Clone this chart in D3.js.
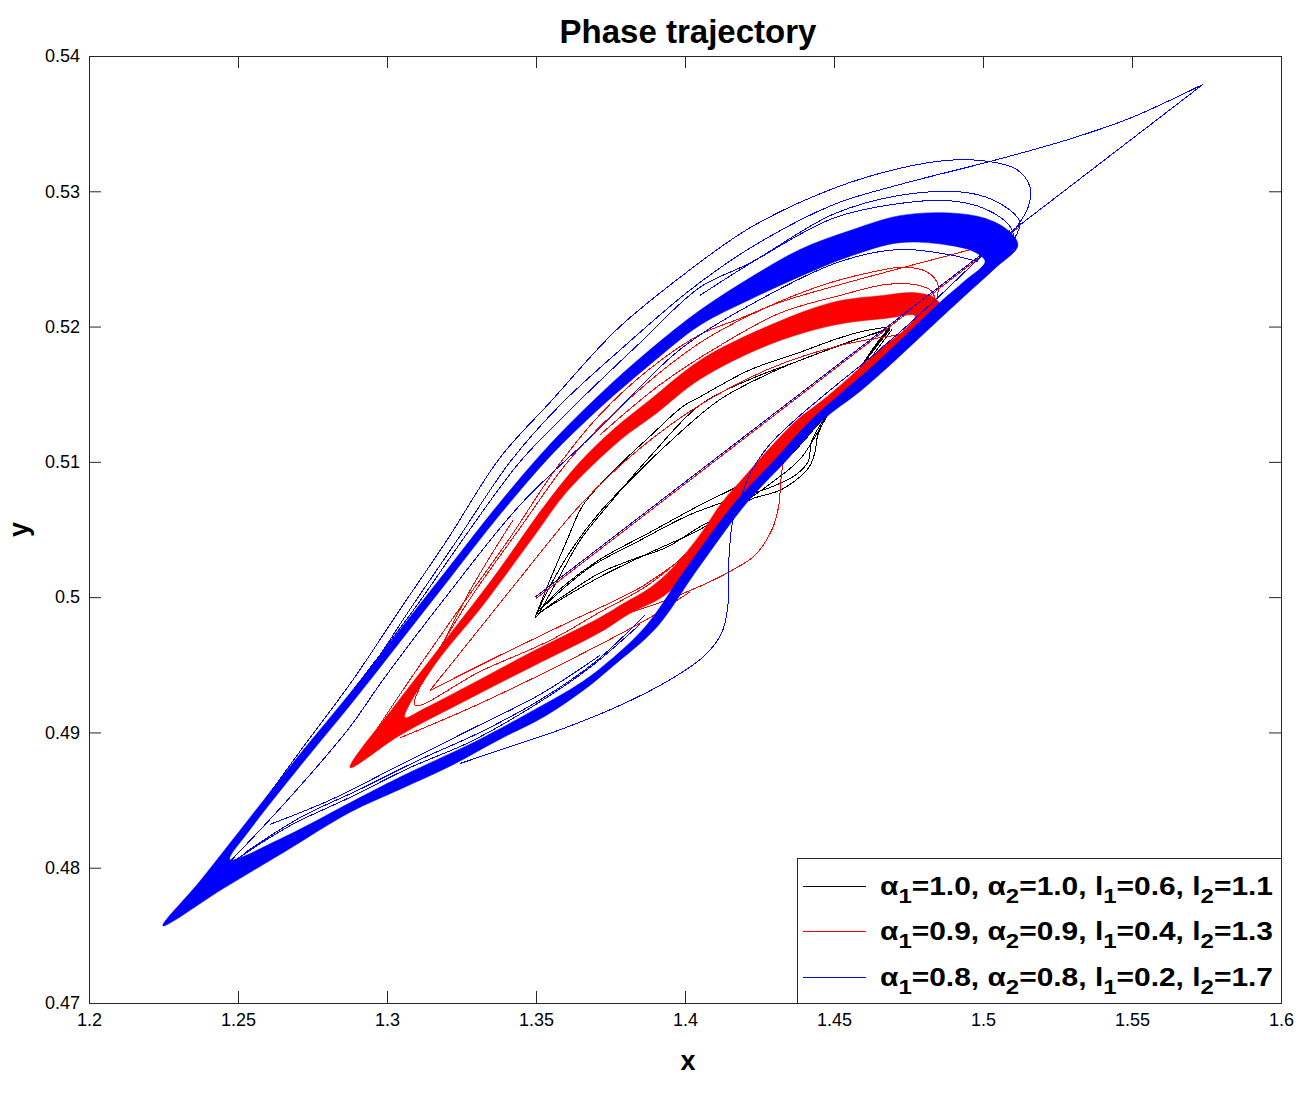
<html>
  <head>
    <title>Phase trajectory</title>
    <style>
      body { margin: 0; background: #ffffff; }
      text { font-family: "Liberation Sans", Arial, sans-serif; fill: #000; }
    </style>
  </head>
  <body>
    <script src="https://d3js.org/d3.v7.min.js"></script>
    <script>
    // axis ticks
    var xTicks = [1.2, 1.25, 1.3, 1.35, 1.4, 1.45, 1.5, 1.55, 1.6];
    var xTickLabels = ["1.2", "1.25", "1.3", "1.35", "1.4", "1.45", "1.5", "1.55", "1.6"];
    var yTicks = [0.47, 0.48, 0.49, 0.5, 0.51, 0.52, 0.53, 0.54];
    var yTickLabels = ["0.47", "0.48", "0.49", "0.5", "0.51", "0.52", "0.53", "0.54"];

    // legend parameters
    var seriesColors = ["#000000", "#ff0000", "#0000ff"];
    var alpha1 = ["1.0", "0.9", "0.8"];
    var alpha2 = ["1.0", "0.9", "0.8"];
    var l1 = ["0.6", "0.4", "0.2"];
    var l2 = ["1.1", "1.3", "1.7"];

    // ---- alpha = 1.0 (black) : loose loop bundle ----
    var blackUpperA = [[1.3497,.4985],[1.3540,.5009],[1.3604,.5042],[1.3658,.5068],[1.3772,.5096],[1.3883,.5119],[1.3993,.5141],[1.4050,.5148],[1.4218,.5168],[1.4386,.5181],[1.4497,.5190],[1.4587,.5196],[1.4688,.5200]];
    var blackUpperB = [[1.3513,.4989],[1.3581,.5016],[1.3648,.5042],[1.3765,.5074],[1.3883,.5104],[1.4050,.5142],[1.4218,.5161],[1.4386,.5175],[1.4554,.5189],[1.4688,.5198]];
    var blackUpperC = [[1.3503,.4988],[1.3554,.5011],[1.3631,.5039],[1.3715,.5063],[1.3832,.5090],[1.3950,.5115],[1.4117,.5146],[1.4319,.5169],[1.4520,.5186],[1.4688,.5199]];
    var blackLowerA = [[1.4688,.5200],[1.4638,.5186],[1.4570,.5164],[1.4503,.5144],[1.4443,.5121],[1.4386,.5102],[1.4275,.5082],[1.4161,.5065],[1.4050,.5052],[1.3940,.5037],[1.3826,.5028],[1.3715,.5018],[1.3614,.5004],[1.3540,.4993],[1.3497,.4985]];
    var blackLowerB = [[1.4688,.5198],[1.4604,.5174],[1.4520,.5147],[1.4436,.5125],[1.4352,.5105],[1.4195,.5084],[1.4050,.5068],[1.3883,.5048],[1.3715,.5028],[1.3597,.5009],[1.3513,.4991]];
    var blackLowerC = [[1.4695,.5198],[1.4614,.5174],[1.4537,.5152],[1.4480,.5135],[1.4446,.5120],[1.4436,.5107],[1.4419,.5097],[1.4386,.5089],[1.4319,.5079],[1.4218,.5072],[1.4050,.5050],[1.3883,.5033],[1.3715,.5015],[1.3581,.4998],[1.3500,.4987]];
    var blackLowerD = [[1.4688,.5199],[1.4621,.5180],[1.4547,.5156],[1.4487,.5138],[1.4426,.5116],[1.4413,.5100],[1.4369,.5090],[1.4285,.5081],[1.4168,.5073],[1.4017,.5061],[1.3849,.5042],[1.3681,.5022],[1.3564,.5001],[1.3503,.4988]];

    // ---- alpha = 0.9 (red) ----
    var redBandOuter = [[1.2876,.4874],[1.3027,.4920],[1.3195,.4968],[1.3362,.5016],[1.3530,.5068],[1.3648,.5100],[1.3765,.5125],[1.3883,.5146],[1.4050,.5175],[1.4275,.5200],[1.4497,.5218],[1.4664,.5223],[1.4772,.5225],[1.4839,.5221],[1.4862,.5212],[1.4815,.5203],[1.4732,.5186],[1.4641,.5169],[1.4540,.5150],[1.4436,.5131],[1.4336,.5109],[1.4242,.5085],[1.4185,.5070],[1.4101,.5046],[1.4017,.5020],[1.3930,.5001],[1.3815,.4988],[1.3715,.4974],[1.3490,.4949],[1.3268,.4924],[1.3044,.4898]];
    var redBandInner = [[1.3060,.4911],[1.3154,.4948],[1.3322,.4994],[1.3490,.5044],[1.3604,.5078],[1.3782,.5116],[1.3899,.5135],[1.4050,.5161],[1.4275,.5186],[1.4497,.5201],[1.4671,.5206],[1.4772,.5208],[1.4738,.5198],[1.4654,.5183],[1.4554,.5163],[1.4453,.5144],[1.4376,.5131],[1.4279,.5109],[1.4191,.5087],[1.4124,.5070],[1.4050,.5046],[1.3960,.5022],[1.3883,.5007],[1.3799,.4996],[1.3715,.4985],[1.3490,.4960],[1.3268,.4934],[1.3128,.4918]];
    var redRunIn = [[1.5084,.5266],[1.4990,.5259],[1.4721,.5243],[1.4520,.5231],[1.4319,.5218],[1.4185,.5206],[1.4050,.5194],[1.3883,.5169],[1.3715,.5135],[1.3564,.5094],[1.3413,.5044],[1.3245,.4992],[1.3077,.4939],[1.2943,.4895],[1.2883,.4875]];
    var redDiagonal = [[1.5124,.5274],[1.3500,.4999]];
    var redOuterArcA = [[1.2909,.4884],[1.3111,.4940],[1.3279,.4999],[1.3446,.5051],[1.3614,.5102],[1.3815,.5147],[1.4050,.5188],[1.4252,.5212],[1.4453,.5230],[1.4621,.5240],[1.4738,.5244],[1.4815,.5240],[1.4849,.5231],[1.4846,.5222]];
    var redOuterArcB = [[1.3715,.5120],[1.3916,.5157],[1.4117,.5186],[1.4319,.5210],[1.4520,.5223],[1.4671,.5231],[1.4772,.5231],[1.4829,.5226],[1.4839,.5218]];
    var redInnerA = [[1.3423,.5057],[1.3279,.5005],[1.3178,.4961],[1.3094,.4920],[1.3312,.4945],[1.3547,.4968],[1.3715,.4989],[1.3883,.5010],[1.4050,.5042],[1.4218,.5085],[1.4386,.5125],[1.4554,.5162],[1.4688,.5190]];
    var redInnerB = [[1.3144,.4931],[1.3379,.4957],[1.3614,.4982],[1.3849,.5007],[1.4017,.5033]];
    var redInnerC = [[1.3144,.4931],[1.3279,.4968],[1.3446,.5014],[1.3648,.5068],[1.3849,.5110],[1.4050,.5142],[1.4285,.5169],[1.4520,.5186],[1.4721,.5194]];
    var redLowerA = [[1.3044,.4896],[1.3268,.4917],[1.3490,.4940],[1.3715,.4965],[1.3883,.4985],[1.4017,.5004]];
    var redHook = [[1.4386,.5124],[1.4336,.5105],[1.4322,.5087],[1.4315,.5068],[1.4292,.5050],[1.4235,.5031],[1.4151,.5019],[1.4050,.5008],[1.3916,.4996],[1.3765,.4985]];

    // ---- alpha = 0.8 (blue) ----
    var blueBandOuter = [[1.2248,.4757],[1.2372,.4790],[1.2540,.4837],[1.2708,.4884],[1.2876,.4929],[1.3044,.4976],[1.3211,.5023],[1.3379,.5070],[1.3547,.5113],[1.3715,.5150],[1.3883,.5183],[1.4050,.5212],[1.4218,.5236],[1.4386,.5257],[1.4554,.5271],[1.4721,.5282],[1.4889,.5284],[1.5007,.5280],[1.5084,.5271],[1.5117,.5260],[1.5040,.5243],[1.4940,.5223],[1.4822,.5199],[1.4705,.5175],[1.4587,.5152],[1.4463,.5131],[1.4336,.5100],[1.4208,.5070],[1.4040,.5020],[1.3906,.4978],[1.3758,.4949],[1.3664,.4932],[1.3530,.4912],[1.3379,.4895],[1.3211,.4875],[1.3044,.4858],[1.2876,.4841],[1.2658,.4812],[1.2446,.4784]];
    var blueBandInner = [[1.2473,.4806],[1.2540,.4828],[1.2708,.4875],[1.2876,.4920],[1.3044,.4967],[1.3211,.5014],[1.3379,.5061],[1.3547,.5104],[1.3715,.5140],[1.3883,.5172],[1.4050,.5201],[1.4218,.5220],[1.4386,.5237],[1.4554,.5252],[1.4721,.5262],[1.4889,.5260],[1.4973,.5255],[1.5007,.5248],[1.4940,.5234],[1.4856,.5218],[1.4738,.5193],[1.4621,.5169],[1.4520,.5150],[1.4423,.5131],[1.4295,.5100],[1.4168,.5070],[1.4000,.5020],[1.3866,.4978],[1.3725,.4949],[1.3631,.4934],[1.3480,.4915],[1.3312,.4895],[1.3044,.4867],[1.2876,.4848],[1.2658,.4823]];
    var blueDiagonal = [[1.5738,.5379],[1.3497,.5000]];
    var blueRunIn = [[1.5738,.5379],[1.5493,.5354],[1.5282,.5338],[1.5023,.5322],[1.4721,.5305],[1.4497,.5290],[1.4218,.5258],[1.4017,.5227],[1.3799,.5186],[1.3581,.5142],[1.3413,.5100],[1.3235,.5042],[1.3077,.4991],[1.2919,.4939],[1.2725,.4887],[1.2557,.4837],[1.2406,.4793]];
    var blueOuterArc = [[1.2389,.4791],[1.2540,.4835],[1.2708,.4886],[1.2886,.4939],[1.3044,.4991],[1.3201,.5042],[1.3379,.5103],[1.3547,.5144],[1.3772,.5198],[1.3993,.5238],[1.4218,.5273],[1.4497,.5302],[1.4721,.5317],[1.4889,.5323],[1.5023,.5322],[1.5114,.5316],[1.5158,.5303],[1.5151,.5288],[1.5117,.5275],[1.5057,.5258],[1.4990,.5242]];
    var blueArcB = [[1.2413,.4794],[1.2567,.4838],[1.2742,.4890],[1.2913,.4939],[1.3094,.4992],[1.3262,.5045],[1.3446,.5100],[1.3631,.5142],[1.3849,.5188],[1.4050,.5229],[1.4218,.5247],[1.4497,.5283],[1.4721,.5297],[1.4946,.5299],[1.5057,.5291],[1.5124,.5277],[1.5091,.5260]];
    var blueArcC = [[1.4050,.5223],[1.4252,.5251],[1.4497,.5280],[1.4721,.5291],[1.4889,.5293],[1.5007,.5287],[1.5091,.5274],[1.5107,.5262]];
    var blueUnderArc = [[1.2440,.4797],[1.2654,.4847],[1.2872,.4903],[1.2987,.4939],[1.3211,.5004],[1.3446,.5068],[1.3715,.5125],[1.3983,.5183],[1.4252,.5220],[1.4520,.5248],[1.4721,.5257],[1.4889,.5253],[1.4983,.5248]];
    var blueHook = [[1.5091,.5271],[1.4990,.5251],[1.4822,.5216],[1.4654,.5183],[1.4487,.5153],[1.4369,.5131],[1.4285,.5113],[1.4225,.5094],[1.4191,.5076],[1.4161,.5057],[1.4148,.5031],[1.4144,.4994],[1.4124,.4974],[1.4067,.4957],[1.3950,.4939],[1.3782,.4920],[1.3581,.4902],[1.3379,.4887],[1.3245,.4877]];
    var blueLowerA = [[1.2473,.4803],[1.2674,.4831],[1.2876,.4852],[1.3077,.4874],[1.3279,.4893],[1.3480,.4918],[1.3681,.4948],[1.3849,.4980]];
    var blueLowerB = [[1.2523,.4811],[1.2708,.4837],[1.2909,.4858],[1.3111,.4880],[1.3312,.4900],[1.3513,.4924],[1.3698,.4952],[1.3866,.4987]];
    var blueLowerC = [[1.2607,.4832],[1.2809,.4850],[1.3044,.4876],[1.3279,.4902],[1.3513,.4928],[1.3715,.4957]];

    var series = [
      { color: seriesColors[0], bands: [], lines: [blackUpperA, blackUpperB, blackUpperC, blackLowerA, blackLowerB, blackLowerC, blackLowerD] },
      { color: seriesColors[1], bands: [[redBandOuter, redBandInner]], lines: [redRunIn, redDiagonal, redOuterArcA, redOuterArcB, redInnerA, redInnerB, redInnerC, redLowerA, redHook] },
      { color: seriesColors[2], bands: [[blueBandOuter, blueBandInner]], lines: [blueDiagonal, blueRunIn, blueOuterArc, blueArcB, blueArcC, blueUnderArc, blueHook, blueLowerA, blueLowerB, blueLowerC] }
    ];

    var w = 1311;
    var h = 1099;
    // plot box (note: "top" is a reserved window property, so use other names)
    var padLeft = 89, padRight = 1281, padTop = 56, padBottom = 1003;

    var svg = d3.select("body")
                .append("svg")
                .attr("width", w)
                .attr("height", h);

    var x = d3.scaleLinear().domain([1.2, 1.6]).range([padLeft, padRight]);
    var y = d3.scaleLinear().domain([0.47, 0.54]).range([padBottom, padTop]);

    var line = d3.line()
                 .x(function(d){ return x(d[0]); })
                 .y(function(d){ return y(d[1]); })
                 .curve(d3.curveCatmullRom.alpha(0.5));
    var ring = d3.line()
                 .x(function(d){ return x(d[0]); })
                 .y(function(d){ return y(d[1]); })
                 .curve(d3.curveCatmullRomClosed.alpha(0.5));

    var plot = svg.append("g");
    series.forEach(function(s){
      var g = plot.append("g");
      s.bands.forEach(function(b){
        g.append("path")
         .attr("d", ring(b[0]) + ring(b[1]))
         .attr("fill", s.color)
         .attr("fill-rule", "evenodd")
         .attr("stroke", s.color)
         .attr("stroke-width", 0.5);
      });
      // matlab draws hairlines without smoothing, so do the same
      g.selectAll("path.traj")
       .data(s.lines)
       .enter()
       .append("path")
       .attr("class", "traj")
       .attr("d", line)
       .attr("fill", "none")
       .attr("stroke", s.color)
       .attr("stroke-width", 1)
       .attr("shape-rendering", "crispEdges");
    });

    // axes, ticks pointing inward like the original
    var axisColor = "#262626";
    var xAxis = d3.axisBottom(x).tickValues(xTicks).tickSize(-12).tickPadding(10)
                  .tickFormat(function(d, i){ return xTickLabels[i]; });
    var yAxis = d3.axisLeft(y).tickValues(yTicks).tickSize(-12).tickPadding(9)
                  .tickFormat(function(d, i){ return yTickLabels[i]; });
    var xTop = d3.axisTop(x).tickValues(xTicks).tickSize(-12).tickFormat("");
    var yRight = d3.axisRight(y).tickValues(yTicks).tickSize(-12).tickFormat("");

    var gx = svg.append("g").attr("transform", "translate(0," + padBottom + ")").call(xAxis);
    var gy = svg.append("g").attr("transform", "translate(" + padLeft + ",0)").call(yAxis);
    var gt = svg.append("g").attr("transform", "translate(0," + padTop + ")").call(xTop);
    var gr = svg.append("g").attr("transform", "translate(" + padRight + ",0)").call(yRight);
    [gx, gy, gt, gr].forEach(function(g){
      g.select(".domain").remove();
      g.selectAll("line").attr("stroke", axisColor);
      g.selectAll("text")
       .attr("fill", axisColor)
       .style("font-family", "'Liberation Sans', Arial, sans-serif")
       .style("font-size", "18px");
    });

    svg.append("rect")
       .attr("x", padLeft + 0.5).attr("y", padTop + 0.5)
       .attr("width", padRight - padLeft).attr("height", padBottom - padTop)
       .attr("fill", "none")
       .attr("stroke", axisColor)
       .attr("stroke-width", 1);

    // title and axis labels
    svg.append("text")
       .attr("x", (padLeft + padRight) / 2 + 3).attr("y", 43)
       .attr("text-anchor", "middle")
       .style("font-size", "33px").style("font-weight", "bold")
       .text("Phase trajectory");
    svg.append("text")
       .attr("x", (padLeft + padRight) / 2 + 3).attr("y", 1070)
       .attr("text-anchor", "middle")
       .style("font-size", "27px").style("font-weight", "bold")
       .text("x");
    svg.append("text")
       .attr("transform", "translate(28," + ((padTop + padBottom) / 2) + ") rotate(-90)")
       .attr("text-anchor", "middle")
       .style("font-size", "27px").style("font-weight", "bold")
       .text("y");

    // legend
    var lg = svg.append("g");
    lg.append("rect")
      .attr("x", 797.5).attr("y", 858.5)
      .attr("width", 484).attr("height", 145)
      .attr("fill", "#fff")
      .attr("stroke", axisColor);
    seriesColors.forEach(function(c, i){
      var ry = 885.5 + i * 45.5;
      lg.append("line")
        .attr("x1", 803).attr("x2", 866)
        .attr("y1", Math.round(ry) + 0.5).attr("y2", Math.round(ry) + 0.5)
        .attr("stroke", c).attr("stroke-width", 1)
        .attr("shape-rendering", "crispEdges");
      var t = lg.append("text")
        .attr("x", 880).attr("y", ry + 9)
        .attr("textLength", 393).attr("lengthAdjust", "spacingAndGlyphs")
        .style("font-size", "25px").style("font-weight", "bold");
      var parts = [["\u03b1", 0], ["1", 1], ["=" + alpha1[i] + ", \u03b1", 0], ["2", 1],
                   ["=" + alpha2[i] + ", l", 0], ["1", 1], ["=" + l1[i] + ", l", 0], ["2", 1],
                   ["=" + l2[i], 0]];
      var shift = 0;
      parts.forEach(function(p){
        var dy = p[1] ? 8 - shift : -shift;
        shift = p[1] ? 8 : 0;
        t.append("tspan")
         .attr("dy", dy)
         .style("font-size", p[1] ? "20px" : "25px")
         .text(p[0]);
      });
    });
    </script>
  </body>
</html>
